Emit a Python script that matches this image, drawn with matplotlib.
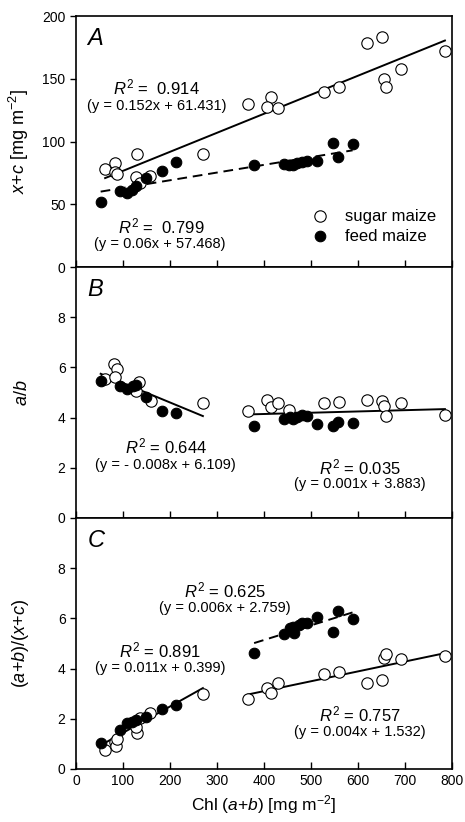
import numpy as np
import matplotlib
matplotlib.use('Agg')
import matplotlib.pyplot as plt

plt.rcParams['font.family'] = ['Liberation Sans', 'DejaVu Sans']
plt.rcParams['mathtext.fontset'] = 'custom'
plt.rcParams['mathtext.rm'] = 'Liberation Sans'
plt.rcParams['mathtext.it'] = 'Liberation Sans:italic'

# --- data ---
# panel A: x+c vs Chl(a+b)
a_sugar_x = [62, 83, 83, 88, 130, 128, 136, 157, 270, 367, 414, 406, 430, 528, 560, 620, 652, 655, 660, 691, 785]
a_sugar_y = [78, 82.6, 76, 74, 90, 72, 67, 72.5, 90, 129.7, 135.7, 127.3, 126.5, 139.7, 143.2, 178.8, 183, 149.8, 143.2, 157.8, 172.4]
a_feed_x = [52.5, 93.6, 108, 118.5, 127.7, 149, 182, 212.8, 378.7, 442.6, 454, 462, 471, 480, 492, 512, 546, 558, 588.6]
a_feed_y = [51.6, 60.8, 58.7, 61.4, 64.8, 71.2, 76.8, 83.4, 81, 82.3, 81, 81.5, 82.6, 83.4, 84.7, 84.7, 99, 87.9, 98]

# panel B: a/b
b_sugar_x = [62, 81, 88, 83, 128, 135, 159, 270, 367, 406, 414, 430, 454, 528, 560, 620, 652, 655, 660, 691, 785]
b_sugar_y = [5.55, 6.12, 5.95, 5.61, 5.05, 5.41, 4.68, 4.59, 4.28, 4.71, 4.41, 4.59, 4.31, 4.59, 4.62, 4.72, 4.68, 4.48, 4.05, 4.57, 4.12]
b_feed_x = [52.5, 93.6, 108, 121, 128, 149, 182, 213, 379, 443, 455, 462, 471, 480, 492, 512, 546, 558, 589]
b_feed_y = [5.44, 5.24, 5.15, 5.24, 5.28, 4.81, 4.25, 4.17, 3.68, 3.95, 4.01, 3.95, 4.04, 4.12, 4.08, 3.75, 3.68, 3.81, 3.77]

# panel C: (a+b)/(x+c)
c_sugar_x = [62, 83, 86, 88, 130, 128, 136, 157, 270, 367, 406, 414, 430, 528, 560, 620, 652, 655, 660, 691, 785]
c_sugar_y = [0.76, 1.06, 0.9, 1.2, 1.45, 1.69, 2.02, 2.22, 2.99, 2.79, 3.21, 3.02, 3.41, 3.78, 3.88, 3.44, 3.55, 4.41, 4.58, 4.37, 4.52]
c_feed_x = [52.5, 93.6, 108, 119, 128, 149, 182, 213, 379, 443, 455, 464, 462, 474, 480, 492, 512, 546, 558, 589]
c_feed_y = [1.05, 1.55, 1.85, 1.89, 1.95, 2.06, 2.39, 2.55, 4.61, 5.38, 5.6, 5.4, 5.67, 5.74, 5.8, 5.83, 6.04, 5.47, 6.31, 5.96]

split_x = 320  # low / high chlorophyll groups


def fit_line(ax, x, y, ls='-'):
    x = np.asarray(x, float)
    y = np.asarray(y, float)
    k, b = np.polyfit(x, y, 1)
    xs = np.array([x.min(), x.max()])
    ax.plot(xs, k * xs + b, color='black', lw=1.4, ls=ls, zorder=1)


def group(x, y, low):
    x = np.asarray(x, float)
    y = np.asarray(y, float)
    m = x < split_x if low else x >= split_x
    return x[m], y[m]


def points(ax, sx, sy, fx, fy):
    ax.plot(sx, sy, 'o', ms=8.2, mfc='white', mec='black', mew=0.8, zorder=3, label='sugar maize')
    ax.plot(fx, fy, 'o', ms=7.6, mfc='black', mec='black', mew=0.8, zorder=4, label='feed maize')


fig = plt.figure(figsize=(4.65, 8.22), dpi=100)
gs = fig.add_gridspec(3, 1, left=0.1634, right=0.972, top=0.9805, bottom=0.0645, hspace=0)
axA = fig.add_subplot(gs[0])
axB = fig.add_subplot(gs[1], sharex=axA)
axC = fig.add_subplot(gs[2], sharex=axA)

eq_fs = 10.5

# panel A
points(axA, a_sugar_x, a_sugar_y, a_feed_x, a_feed_y)
fit_line(axA, a_sugar_x, a_sugar_y, '-')
fit_line(axA, a_feed_x, a_feed_y, (0, (5, 3)))
axA.set_ylim(0, 200)
axA.set_yticks([0, 50, 100, 150, 200])
axA.text(172, 143, r'$R^2$ =  0.914', ha='center', va='center', fontsize=12)
axA.text(172, 128, '(y = 0.152x + 61.431)', ha='center', va='center', fontsize=eq_fs)
axA.text(182, 32, r'$R^2$ =  0.799', ha='center', va='center', fontsize=12)
axA.text(179, 18, '(y = 0.06x + 57.468)', ha='center', va='center', fontsize=eq_fs)
axA.legend(loc='lower right', bbox_to_anchor=(0.985, 0.05), frameon=False, fontsize=12,
           handletextpad=0.5, labelspacing=0.3, borderaxespad=0.2)
axA.set_ylabel(r'$x$+$c$ [mg m$^{\mathrm{-2}}$]', fontsize=13)

# panel B
points(axB, b_sugar_x, b_sugar_y, b_feed_x, b_feed_y)
lo = group(b_sugar_x + b_feed_x, b_sugar_y + b_feed_y, True)
hi = group(b_sugar_x + b_feed_x, b_sugar_y + b_feed_y, False)
fit_line(axB, *lo)
fit_line(axB, *hi)
axB.set_ylim(0, 10)
axB.set_yticks([0, 2, 4, 6, 8])
axB.text(191, 2.84, r'$R^2$ = 0.644', ha='center', va='center', fontsize=12)
axB.text(191, 2.12, '(y = - 0.008x + 6.109)', ha='center', va='center', fontsize=eq_fs)
axB.text(604, 2.01, r'$R^2$ = 0.035', ha='center', va='center', fontsize=12)
axB.text(604, 1.35, '(y = 0.001x + 3.883)', ha='center', va='center', fontsize=eq_fs)
axB.set_ylabel(r'$a/b$', fontsize=13)

# panel C
points(axC, c_sugar_x, c_sugar_y, c_feed_x, c_feed_y)
lo = group(c_sugar_x + c_feed_x, c_sugar_y + c_feed_y, True)
fit_line(axC, *lo)
fit_line(axC, *group(c_sugar_x, c_sugar_y, False))
fit_line(axC, *group(c_feed_x, c_feed_y, False), ls=(0, (5, 3)))
axC.set_ylim(0, 10)
axC.set_yticks([0, 2, 4, 6, 8])
axC.text(317, 7.13, r'$R^2$ = 0.625', ha='center', va='center', fontsize=12)
axC.text(317, 6.4, '(y = 0.006x + 2.759)', ha='center', va='center', fontsize=eq_fs)
axC.text(179, 4.74, r'$R^2$ = 0.891', ha='center', va='center', fontsize=12)
axC.text(179, 4.01, '(y = 0.011x + 0.399)', ha='center', va='center', fontsize=eq_fs)
axC.text(604, 2.19, r'$R^2$ = 0.757', ha='center', va='center', fontsize=12)
axC.text(604, 1.49, '(y = 0.004x + 1.532)', ha='center', va='center', fontsize=eq_fs)
axC.set_ylabel(r'($a$+$b$)/($x$+$c$)', fontsize=13)
axC.set_xlabel(r'Chl ($a$+$b$) [mg m$^{\mathrm{-2}}$]', fontsize=12.5)

axC.set_xlim(0, 800)
axC.set_xticks(np.arange(0, 801, 100))

for ax, letter in zip([axA, axB, axC], ['A', 'B', 'C']):
    ax.text(0.03, 0.955, letter, transform=ax.transAxes, fontsize=17, style='italic',
            ha='left', va='top')
    ax.tick_params(axis='x', direction='in', length=5, width=1, labelsize=10)
    ax.tick_params(axis='y', direction='out', length=4, width=1, labelsize=10)
    for s in ax.spines.values():
        s.set_linewidth(1.2)
    ax.yaxis.set_label_coords(-0.12, 0.5)
axA.tick_params(axis='x', labelbottom=False)
axB.tick_params(axis='x', labelbottom=False)

fig.savefig('out.png', dpi=100)
